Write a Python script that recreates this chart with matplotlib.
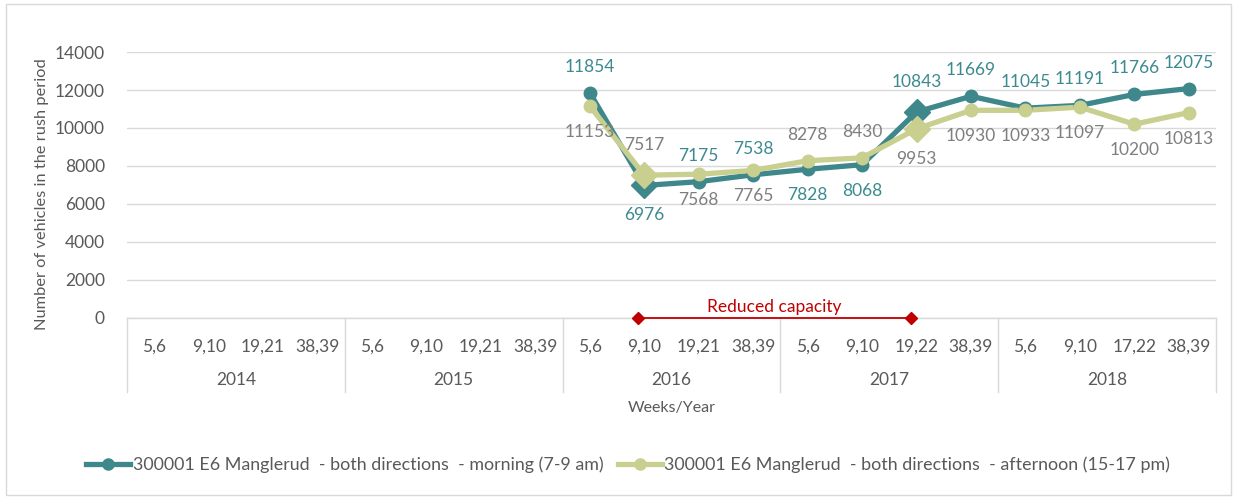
import matplotlib
matplotlib.use("Agg")
import matplotlib.pyplot as plt
import numpy as np
from matplotlib.patches import Rectangle
from matplotlib.lines import Line2D

plt.rcParams['font.family'] = ['Lato', 'DejaVu Sans']

years = ["2014", "2015", "2016", "2017", "2018"]
weeks = ["5,6", "9,10", "19,21", "38,39",
         "5,6", "9,10", "19,21", "38,39",
         "5,6", "9,10", "19,21", "38,39",
         "5,6", "9,10", "19,22", "38,39",
         "5,6", "9,10", "17,22", "38,39"]
morning = [None] * 8 + [11854, 6976, 7175, 7538, 7828, 8068, 10843, 11669,
                        11045, 11191, 11766, 12075]
afternoon = [None] * 8 + [11153, 7517, 7568, 7765, 8278, 8430, 9953, 10930,
                          10933, 11097, 10200, 10813]
# label placement: +1 above point, -1 below point
morning_pos = [None] * 8 + [1, -1, 1, 1, -1, -1, 1, 1, 1, 1, 1, 1]
afternoon_pos = [None] * 8 + [-1, 1, -1, -1, 1, 1, -1, -1, -1, -1, -1, -1]
diamond_idx = [9, 14]
reduced_start, reduced_end = 9, 14

teal = "#3E878B"
green = "#C8CF8F"
teal_txt = "#3B8A8F"
grey_txt = "#7F7F7F"
axis_txt = "#595959"
gridc = "#D9D9D9"
red = "#C00000"

W, H = 1236, 499
fig = plt.figure(figsize=(W / 100, H / 100), dpi=100)
ax = fig.add_axes([127 / W, (H - 318) / H, (1216 - 127) / W, (318 - 52) / H])

x = np.arange(len(weeks))

def series(vals):
    xs = [i for i, v in enumerate(vals) if v is not None]
    ys = [vals[i] for i in xs]
    return np.array(xs), np.array(ys)

for vals, col in [(morning, teal), (afternoon, green)]:
    xs, ys = series(vals)
    ax.plot(xs, ys, color=col, lw=3.8, zorder=3, solid_capstyle='round')
    circ = [k for k, xi in enumerate(xs) if xi not in diamond_idx]
    dia = [k for k, xi in enumerate(xs) if xi in diamond_idx]
    ax.plot(xs[circ], ys[circ], 'o', color=col, ms=9, zorder=4)
    ax.plot(xs[dia], ys[dia], 'D', color=col, ms=13, zorder=4)

for vals, pos, col in [(morning, morning_pos, teal_txt), (afternoon, afternoon_pos, grey_txt)]:
    for i, v in enumerate(vals):
        if v is None:
            continue
        off = 30 if i in diamond_idx else 26
        ax.annotate(f"{v}", (i, v), xytext=(0, off * pos[i]), textcoords='offset pixels',
                    ha='center', va='center', fontsize=12.5, color=col, zorder=5)

# reduced capacity marker
ax.plot([reduced_start - 0.12, reduced_end - 0.1], [0, 0], color=red, lw=1.3,
        marker='D', ms=6, zorder=6, clip_on=False)
ax.annotate("Reduced capacity", ((reduced_start + reduced_end) / 2 - 0.12, 0),
            xytext=(0, 11), textcoords='offset pixels', ha='center', va='center',
            fontsize=12.5, color=red)

ax.set_xlim(-0.5, len(weeks) - 0.5)
ax.set_ylim(0, 14000)
ax.set_yticks(np.arange(0, 14001, 2000))
ax.tick_params(axis='y', length=0, pad=16, labelsize=12.5, labelcolor=axis_txt)
ax.grid(axis='y', color=gridc, lw=1)
ax.set_axisbelow(True)
for s in ['top', 'right', 'left']:
    ax.spines[s].set_visible(False)
ax.spines['bottom'].set_color(gridc)
ax.spines['bottom'].set_linewidth(1)

ax.set_xticks(x)
ax.set_xticklabels(weeks)
ax.tick_params(axis='x', length=0, pad=15, labelsize=12.5, labelcolor=axis_txt)

trans = ax.get_xaxis_transform()
depth = -74 / 266
for b in np.arange(-0.5, len(weeks), 4):
    ax.plot([b, b], [0, depth], color=gridc, lw=1, transform=trans, clip_on=False)
for k, yname in enumerate(years):
    ax.text(4 * k + 1.5, -62 / 266, yname, transform=trans, ha='center', va='center',
            fontsize=12.5, color=axis_txt)
ax.text(9.5, -90 / 266, "Weeks/Year", transform=trans, ha='center', va='center',
        fontsize=11.5, color=axis_txt)

fig.text(42 / W, 1 - 194 / H, "Number of vehicles in the rush period", rotation=90,
         ha='center', va='center', fontsize=11.8, color=axis_txt)

handles = [Line2D([], [], color=teal, lw=3.8, marker='o', ms=8),
           Line2D([], [], color=green, lw=3.8, marker='o', ms=8)]
labels = ["300001 E6 Manglerud  - both directions  - morning (7-9 am)",
          "300001 E6 Manglerud  - both directions  - afternoon (15-17 pm)"]
fig.legend(handles, labels, loc='center', bbox_to_anchor=(628 / W, 1 - 465 / H),
           ncol=2, frameon=False, fontsize=12.9, labelcolor=axis_txt,
           handlelength=2.5, handletextpad=0.12, columnspacing=0.8)

fig.patches.append(Rectangle((6 / W, 4 / H), (1231 - 6) / W, (495 - 4) / H,
                             transform=fig.transFigure, fill=False, edgecolor=gridc, lw=1))

fig.savefig("out.png", dpi=100)
